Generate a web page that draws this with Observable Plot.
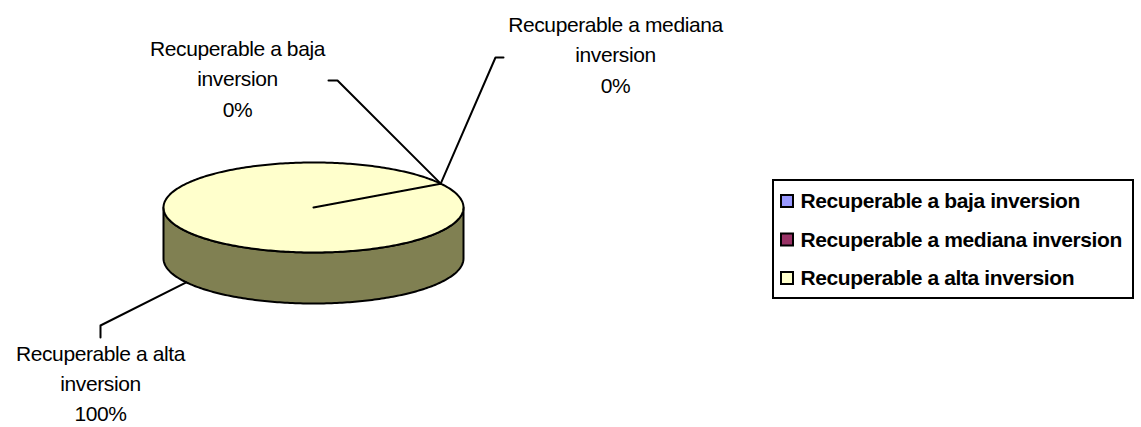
<!DOCTYPE html>
<html>
<head>
<meta charset="utf-8">
<script src="https://cdn.jsdelivr.net/npm/d3@7"></script>
<script src="https://cdn.jsdelivr.net/npm/@observablehq/plot@0.6"></script>
<style>
  html, body { margin: 0; padding: 0; background: #fff; }
  #chart svg text { letter-spacing: -0.4px; }
</style>
</head>
<body>
<div id="chart"></div>
<script>
// ---- data ----
const categories = ["Recuperable a baja inversion", "Recuperable a mediana inversion", "Recuperable a alta inversion"];
const values = [0, 0, 100];
const colors = ["#9999FF", "#993366", "#FFFFCC"];

// ---- layout (pixels) ----
const pie = {cx: 313, cy: 207, rx: 150, ry: 45, depth: 51, rotationDeg: 58};
const labelLayout = [
  {x: 237, y: 76, lh: 1.47, path: [[337, 80], [328, 80]]},
  {x: 615, y: 52, lh: 1.47, path: [[495, 57], [503, 57]]},
  {x: 100, y: 381, lh: 1.43, path: [[100, 325], [100, 337]]}
];
const legendBox = {x1: 773, x2: 1133, y1: 180, y2: 298};
const legendRowsY = [201, 239.5, 278];

// ---- geometry from data ----
const total = d3.sum(values);
const rot = pie.rotationDeg * Math.PI / 180;
const arcs = d3.pie().sort(null).startAngle(rot).endAngle(rot + 2 * Math.PI)(values);
const pt = (a, dz = 0) => [pie.cx + pie.rx * Math.sin(a), pie.cy - pie.ry * Math.cos(a) + dz];
const sample = (a0, a1) => {
  const n = Math.max(2, Math.ceil(Math.abs(a1 - a0) / (Math.PI / 180)));
  return d3.range(n + 1).map(i => a0 + (a1 - a0) * i / n);
};

const topPts = [], sidePts = [];
arcs.forEach((a, i) => {
  if (a.value <= 0) return;
  const key = categories[i];
  const pts = [[pie.cx, pie.cy], ...sample(a.startAngle, a.endAngle).map(t => pt(t)), [pie.cx, pie.cy]];
  pts.forEach(([x, y]) => topPts.push({key, cat: key, x, y}));
  // visible front wall: compass angles in [90deg, 270deg] (+2k*pi)
  for (let k = -1; k <= 2; k++) {
    const s = Math.max(a.startAngle, Math.PI / 2 + 2 * Math.PI * k);
    const e = Math.min(a.endAngle, 3 * Math.PI / 2 + 2 * Math.PI * k);
    if (e > s) {
      const skey = key + "-side" + k;
      const c = d3.rgb(colors[i]);
      const shade = d3.rgb(c.r * 0.5, c.g * 0.5, c.b * 0.4).formatHex();
      const top = sample(s, e).map(t => pt(t));
      const bot = sample(s, e).reverse().map(t => pt(t, pie.depth));
      [...top, ...bot, top[0]].forEach(([x, y]) => sidePts.push({key: skey, shade, x, y}));
    }
  }
});

// labels and leader lines
const labels = arcs.map((a, i) => {
  const mid = (a.startAngle + a.endAngle) / 2;
  const front = Math.cos(mid) < 0;
  const start = pt(mid, front ? pie.depth : 0);
  const pct = Math.round(values[i] / total * 100);
  return {
    text: categories[i].replace(/ (\S+)$/, "\n$1") + "\n" + pct + "%",
    x: labelLayout[i].x, y: labelLayout[i].y, lh: labelLayout[i].lh,
    leader: [start, ...labelLayout[i].path]
  };
});
const leaderPts = labels.flatMap((l, i) => l.leader.map(([x, y]) => ({key: i, x, y})));

const legendRows = categories.map((c, i) => ({cat: c, y: legendRowsY[i]}));

const chart = Plot.plot({
  width: 1141,
  height: 427,
  margin: 0,
  x: {type: "identity", axis: null},
  y: {type: "identity", axis: null},
  color: {domain: categories, range: colors},
  style: {fontFamily: "'Liberation Sans', Arial, sans-serif", background: "#fff"},
  marks: [
    Plot.line(sidePts, {x: "x", y: "y", z: "key", fill: d => d.shade, stroke: "black", strokeWidth: 2, strokeLinejoin: "round"}),
    Plot.line(topPts, {x: "x", y: "y", z: "key", fill: "cat", stroke: "black", strokeWidth: 2, strokeLinejoin: "round"}),
    Plot.line(leaderPts, {x: "x", y: "y", z: "key", stroke: "black", strokeWidth: 2}),
    ...labels.map(l => Plot.text([l], {x: "x", y: "y", text: "text", fontSize: 21, lineHeight: l.lh, textAnchor: "middle", fill: "black"})),
    Plot.rect([legendBox], {x1: "x1", x2: "x2", y1: "y1", y2: "y2", fill: "white", stroke: "black", strokeWidth: 2}),
    Plot.rect(legendRows, {x1: 781, x2: 793, y1: d => d.y - 6, y2: d => d.y + 6, fill: "cat", stroke: "black", strokeWidth: 2}),
    Plot.text(legendRows, {x: 800, y: "y", text: "cat", textAnchor: "start", fontSize: 21, fontWeight: "bold", fill: "black"})
  ]
});
document.getElementById("chart").appendChild(chart);
</script>
</body>
</html>
